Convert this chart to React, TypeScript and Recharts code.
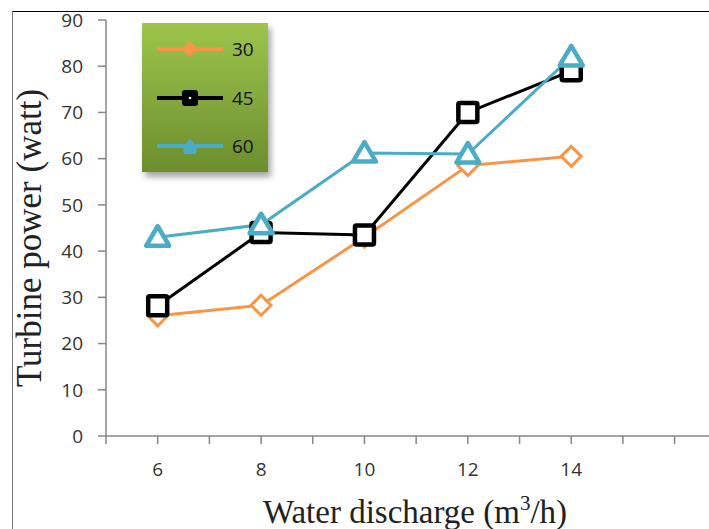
import { LineChart, Line, XAxis, YAxis, Legend } from "recharts";

// water discharge (m3/h) and turbine power (watt) for each series
const discharge = [6, 8, 10, 12, 14];
const power30 = [26, 28.3, 43, 58.5, 60.5];
const power45 = [28.2, 44, 43.5, 70, 79];
const power60 = [43, 45.7, 61.2, 61, 82];

const xTicks = [5, 6, 7, 8, 9, 10, 11, 12, 13, 14, 15, 16, 17];
const xTickLabels = [6, 8, 10, 12, 14];
const yTicks = [0, 10, 20, 30, 40, 50, 60, 70, 80, 90];

const seriesNames = ["30", "45", "60"];
const seriesColors = ["#F79646", "#000000", "#4BACC6"];

const data = discharge.map((x, i) => ({
  x,
  s30: power30[i],
  s45: power45[i],
  s60: power60[i],
}));

const tickFont = { fontFamily: "'Open Sans', sans-serif", fontSize: 19, fill: "#333" };

const Diamond = ({ cx, cy }: any) => (
  <path
    d={`M${cx},${cy - 10} L${cx + 10},${cy} L${cx},${cy + 10} L${cx - 10},${cy} Z`}
    fill="#fff" stroke="#F79646" strokeWidth={3}
  />
);

const Square = ({ cx, cy }: any) => (
  <rect x={cx - 9.5} y={cy - 9.5} width={19} height={19} rx={1.5}
        fill="#fff" stroke="#000" strokeWidth={4.5} />
);

const Triangle = ({ cx, cy }: any) => (
  <path
    d={`M${cx},${cy - 11} L${cx + 11.5},${cy + 8.5} L${cx - 11.5},${cy + 8.5} Z`}
    fill="#fff" stroke="#4BACC6" strokeWidth={4.5} strokeLinejoin="round"
  />
);

function LegendMarker({ idx }: { idx: number }) {
  const color = seriesColors[idx];
  return (
    <svg width={70} height={20} style={{ display: "block" }}>
      <line x1={2} y1={10} x2={68} y2={10} stroke={color} strokeWidth={4} />
      {idx === 0 && <path d="M35,2 L43,10 L35,18 L27,10 Z" fill={color} />}
      {idx === 1 && (
        <>
          <rect x={27} y={2} width={16} height={16} rx={3} fill={color} />
          <circle cx={35} cy={10} r={1.3} fill="#fff" />
        </>
      )}
      {idx === 2 && <path d="M35,2 L42,12 L41,18 L29,18 L28,12 Z" fill={color} />}
    </svg>
  );
}

const LegendBox = () => (
  <div
    style={{
      width: 126,
      height: 149,
      boxSizing: "border-box",
      padding: "16px 0 0 13px",
      background: "linear-gradient(#9DC54C, #6C8D2E)",
      boxShadow: "3px 5px 6px rgba(0,0,0,0.35)",
    }}
  >
    {seriesNames.map((name, i) => (
      <div key={name} style={{ display: "flex", alignItems: "center", height: 48.5, marginTop: i === 0 ? -14 : 0 }}>
        <LegendMarker idx={i} />
        <span style={{ marginLeft: 7, fontFamily: "'Open Sans', sans-serif", fontSize: 19, color: "#111" }}>
          {name}
        </span>
      </div>
    ))}
  </div>
);

const XTitle = () => (
  <text x={415} y={523} textAnchor="middle" fill="#222"
        style={{ fontFamily: "'Liberation Serif', 'Times New Roman', serif", fontSize: 33 }}>
    Water discharge (m
    <tspan dy={-13} fontSize={21}>3</tspan>
    <tspan dy={13}>/h)</tspan>
  </text>
);

const YTitle = () => (
  <text x={41} y={238} textAnchor="middle" fill="#222" transform="rotate(-90, 41, 238)"
        style={{ fontFamily: "'Liberation Serif', 'Times New Roman', serif", fontSize: 35 }}>
    Turbine power (watt)
  </text>
);

export default function App() {
  return (
    <div style={{ position: "absolute", left: 0, top: 0, width: 709, height: 529, overflow: "hidden", background: "#fff" }}>
      {/* outer frame, cut off at the right and bottom */}
      <div style={{ position: "absolute", left: 12, top: 11, width: 760, height: 560,
                    borderTop: "1.5px solid #000", borderLeft: "1.5px solid #777" }} />
      <div style={{ position: "absolute", left: 0, top: 0 }}>
        <LineChart width={800} height={529} data={data}
                   margin={{ top: 20, right: 22, bottom: 0, left: 0 }}>
          <XAxis
            type="number"
            dataKey="x"
            domain={[5, 18]}
            ticks={xTicks}
            allowDataOverflow
            tickFormatter={(v: number) => (xTickLabels.includes(v) ? String(v) : "")}
            stroke="#868686"
            strokeWidth={1.5}
            tickSize={8}
            tickMargin={19}
            tick={tickFont}
            height={93}
            label={<XTitle />}
          />
          <YAxis
            domain={[0, 90]}
            ticks={yTicks}
            interval={0}
            stroke="#868686"
            strokeWidth={1.5}
            tickSize={8}
            tickMargin={15}
            tick={tickFont}
            width={106}
            label={<YTitle />}
          />
          <Legend
            layout="vertical"
            align="center"
            verticalAlign="middle"
            content={<LegendBox />}
            wrapperStyle={{ left: 142, top: 23, width: 126, height: 149 }}
          />
          <Line dataKey="s30" name={seriesNames[0]} stroke={seriesColors[0]} strokeWidth={3}
                dot={<Diamond />} activeDot={false} isAnimationActive={false} />
          <Line dataKey="s45" name={seriesNames[1]} stroke={seriesColors[1]} strokeWidth={3}
                dot={<Square />} activeDot={false} isAnimationActive={false} />
          <Line dataKey="s60" name={seriesNames[2]} stroke={seriesColors[2]} strokeWidth={3}
                dot={<Triangle />} activeDot={false} isAnimationActive={false} />
        </LineChart>
      </div>
    </div>
  );
}
